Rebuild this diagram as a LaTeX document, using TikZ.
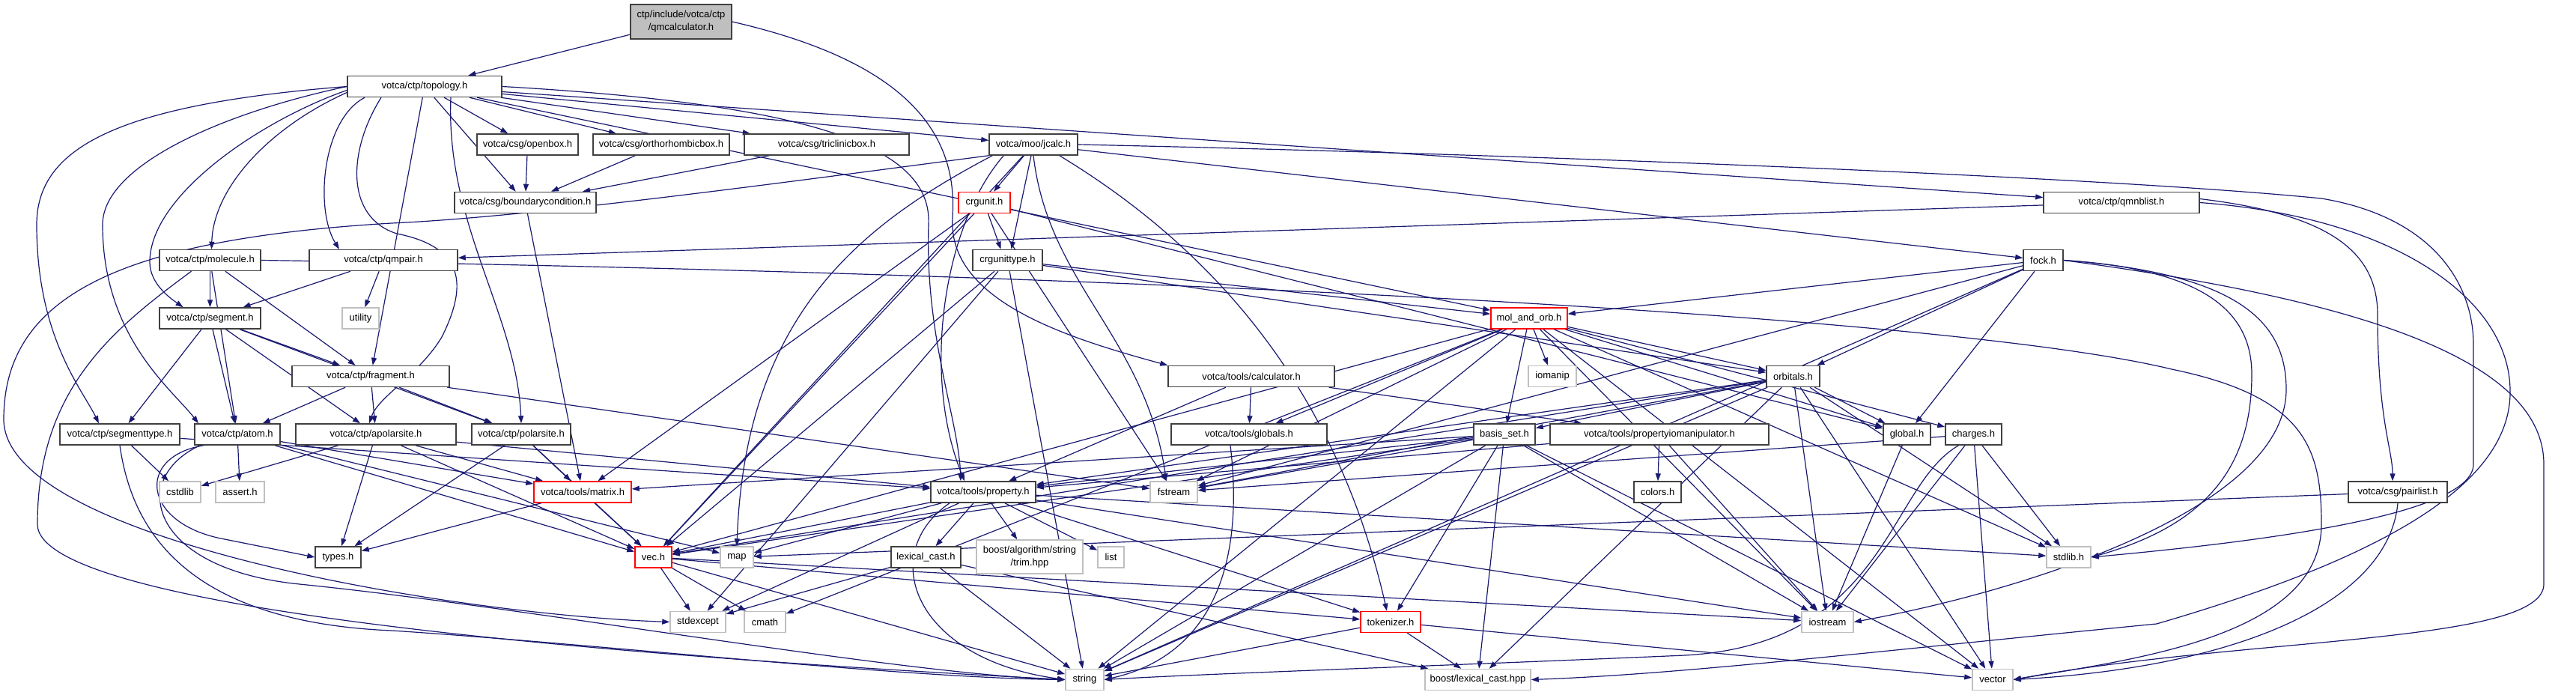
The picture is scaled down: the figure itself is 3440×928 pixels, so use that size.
\documentclass[tikz,border=0pt]{standalone}
\usepackage{fontspec}
\setsansfont{Liberation Sans}
\usetikzlibrary{arrows.meta, backgrounds}
\definecolor{edgeblue}{HTML}{191970}
\definecolor{boxdark}{HTML}{404040}
\definecolor{boxgray}{HTML}{BFBFBF}
\definecolor{boxred}{HTML}{FF0000}

\begin{document}
\begin{tikzpicture}[x=1pt, y=-1pt,
    file/.style={draw=boxdark, fill=white, line width=1.5pt, minimum height=28pt, inner sep=0pt, font=\sffamily\fontsize{13}{17}\selectfont},
    ext/.style={file, draw=boxgray},
    trunc/.style={file, draw=boxred},
    root/.style={file, fill=boxgray, minimum height=46pt, align=center},
    link/.style={->, >={Triangle[length=10pt, width=7pt]}, line width=1.2pt, edgeblue}
  ]
  \useasboundingbox (0,0) rectangle (3440,928);

  % --- rank 0 / 1 ---
  \node[root, minimum width=135pt] (qmcalc) at (909.5,29) {ctp/include/votca/ctp\\/qmcalculator.h};
  \node[file, minimum width=206pt] (topology) at (567,115.5) {votca/ctp/topology.h};

  % --- rank 2 ---
  \node[file, minimum width=135pt] (openbox) at (704.5,193) {votca/csg/openbox.h};
  \node[file, minimum width=182pt] (orthobox) at (883,193) {votca/csg/orthorhombicbox.h};
  \node[file, minimum width=220pt] (triclinicbox) at (1104,193) {votca/csg/triclinicbox.h};
  \node[file, minimum width=118pt] (jcalc) at (1380,193) {votca/moo/jcalc.h};

  % --- rank 3 ---
  \node[file, minimum width=189pt] (boundary) at (701.5,270.5) {votca/csg/boundarycondition.h};
  \node[trunc, minimum width=69pt] (crgunit) at (1314.5,270.5) {crgunit.h};
  \node[file, minimum width=208pt] (qmnblist) at (2833,270.5) {votca/ctp/qmnblist.h};

  % --- rank 4 ---
  \node[file, minimum width=135pt] (molecule) at (280.5,347.5) {votca/ctp/molecule.h};
  \node[file, minimum width=198pt] (qmpair) at (512,347.5) {votca/ctp/qmpair.h};
  \node[file, minimum width=93pt] (crgunittype) at (1345.5,347.5) {crgunittype.h};
  \node[file, minimum width=53pt] (fock) at (2728.5,347.5) {fock.h};

  % --- rank 5 ---
  \node[file, minimum width=135pt] (segment) at (280.5,425) {votca/ctp/segment.h};
  \node[ext, minimum width=49pt] (utility) at (481.5,425) {utility};
  \node[trunc, minimum width=102pt] (molandorb) at (2042,425) {mol\_and\_orb.h};

  % --- rank 6 ---
  \node[file, minimum width=210pt] (fragment) at (495,502.5) {votca/ctp/fragment.h};
  \node[file, minimum width=222pt] (calculator) at (1671,502.5) {votca/tools/calculator.h};
  \node[ext, minimum width=64pt] (iomanip) at (2073,502.5) {iomanip};
  \node[file, minimum width=71pt] (orbitals) at (2394.5,502.5) {orbitals.h};

  % --- rank 7 ---
  \node[file, minimum width=160pt] (segmenttype) at (160,580) {votca/ctp/segmenttype.h};
  \node[file, minimum width=114pt] (atom) at (317,580) {votca/ctp/atom.h};
  \node[file, minimum width=214pt] (apolarsite) at (502,580) {votca/ctp/apolarsite.h};
  \node[file, minimum width=132pt] (polarsite) at (696,580) {votca/ctp/polarsite.h};
  \node[file, minimum width=208pt] (globals) at (1668,580) {votca/tools/globals.h};
  \node[file, minimum width=82pt] (basisset) at (2009,580) {basis\_set.h};
  \node[file, minimum width=292pt] (propiomanip) at (2216,580) {votca/tools/propertyiomanipulator.h};
  \node[file, minimum width=63pt] (global) at (2546.5,580) {global.h};
  \node[file, minimum width=75pt] (charges) at (2635.5,580) {charges.h};

  % --- rank 8 ---
  \node[ext, minimum width=55pt] (cstdlib) at (240.5,657) {cstdlib};
  \node[ext, minimum width=65pt] (asserth) at (320.5,657) {assert.h};
  \node[trunc, minimum width=130pt] (matrix) at (778,657) {votca/tools/matrix.h};
  \node[file, minimum width=140pt] (property) at (1313,657) {votca/tools/property.h};
  \node[ext, minimum width=63pt] (fstream) at (1567.5,657) {fstream};
  \node[file, minimum width=63pt] (colors) at (2213.5,657) {colors.h};
  \node[file, minimum width=132pt] (pairlist) at (3202,657) {votca/csg/pairlist.h};

  % --- rank 9 ---
  \node[file, minimum width=61pt] (types) at (451.5,744) {types.h};
  \node[trunc, minimum width=49pt] (vec) at (872.5,744) {vec.h};
  \node[ext, minimum width=44pt] (maph) at (984,744) {map};
  \node[file, minimum width=93pt] (lexicalcast) at (1236.5,744) {lexical\_cast.h};
  \node[ext, minimum width=142pt, minimum height=45pt, align=center] (trim) at (1375,743.5) {boost/algorithm/string\\/trim.hpp};
  \node[ext, minimum width=35pt] (listh) at (1483.5,744) {list};
  \node[ext, minimum width=59pt] (stdlib) at (2762.5,744) {stdlib.h};

  % --- rank 10 / 11 ---
  \node[ext, minimum width=74pt] (stdexcept) at (932,830.5) {stdexcept};
  \node[ext, minimum width=55pt] (cmath) at (1021.5,830.5) {cmath};
  \node[trunc, minimum width=80pt] (tokenizer) at (1857,830.5) {tokenizer.h};
  \node[ext, minimum width=69pt] (iostream) at (2440.5,830.5) {iostream};
  \node[ext, minimum width=51pt] (stdstring) at (1448.5,907.5) {string};
  \node[ext, minimum width=141pt] (lexcasthpp) at (1973.5,907.5) {boost/lexical\_cast.hpp};
  \node[ext, minimum width=54pt] (stdvector) at (2661,907.5) {vector};

  \begin{scope}[on background layer]
    \fill[white] (0,0) rectangle (3440,928);

    % --- straight includes ---
    \path[link] (qmcalc) edge (topology);
    \path[link] (topology) edge (openbox) edge (orthobox) edge (triclinicbox) edge (boundary)
      edge (jcalc) edge (qmnblist) edge (molandorb) edge (fragment);
    \path[link] (openbox) edge (boundary);
    \path[link] (orthobox) edge (boundary);
    \path[link] (triclinicbox) edge (boundary);
    \path[link] (boundary) edge (matrix);
    \path[link] (jcalc) edge (crgunit) edge (fock) edge (vec);
    \path[link] ([xshift=-3pt]jcalc.south) edge ([xshift=5pt]crgunittype.north);
    \path[link] (qmnblist) edge (qmpair);
    \path[link] ([xshift=5pt]crgunit.south) edge ([xshift=-9pt]crgunittype.north);
    \path[link] (crgunit) edge (global) edge (vec) edge (matrix) edge (fstream);
    \path[link] (crgunittype) edge (molandorb) edge (orbitals) edge (vec) edge (stdstring) edge (stdexcept);
    \path[link] (molecule) edge (segment) edge (atom) edge (fragment);
    \path[link] (qmpair) edge (segment) edge (utility);
    \path[link] (segment) edge (segmenttype) edge (atom) edge (apolarsite) edge (fragment) edge (polarsite);
    \path[link] (fragment) edge (atom) edge (apolarsite) edge (polarsite) edge (fstream);
    \path[link] (segmenttype) edge (cstdlib) edge (property);
    \path[link] (atom) edge (asserth) edge (vec) edge (matrix) edge (maph);
    \path[link] (apolarsite) edge (cstdlib) edge (types) edge (matrix) edge (vec) edge (property);
    \path[link] (polarsite) edge (matrix) edge (types) edge (vec);
    \path[link] (fock) edge (molandorb) edge (orbitals) edge (global) edge (stdstring) edge (fstream);
    \path[link] (molandorb) edge (iomanip) edge (basisset) edge (orbitals) edge (global) edge (charges)
      edge (globals) edge (stdlib) edge (iostream) edge (stdvector) edge (fstream) edge (stdstring)
      edge (vec) edge (cmath);
    \path[link] (orbitals) edge (basisset) edge (global) edge (iostream) edge (stdlib) edge (stdvector)
      edge (vec) edge (fstream) edge (stdstring) edge (lexcasthpp) edge (property);
    \path[link] (basisset) edge (tokenizer) edge (stdstring) edge (lexcasthpp) edge (iostream)
      edge (stdvector) edge (property) edge (fstream) edge (vec) edge (matrix);
    \path[link] (calculator) edge (globals) edge (property) edge (propiomanip);
    \path[link] (propiomanip) edge (colors) edge (iostream) edge (property);
    \path[link] (global) edge (iostream);
    \path[link] (charges) edge (iostream) edge (stdlib) edge (stdvector) edge (fstream);
    \path[link] (property) edge (lexicalcast) edge (trim) edge (listh) edge (tokenizer) edge (maph)
      edge (vec) edge (stdexcept) edge (iostream) edge (stdlib);
    \path[link] (lexicalcast) edge (stdstring) edge (stdexcept) edge (lexcasthpp);
    \path[link] (tokenizer) edge (stdstring) edge (lexcasthpp) edge (stdvector);
    \path[link] (vec) edge (stdexcept) edge (cmath) edge (stdstring) edge (iostream) edge (tokenizer);
    \path[link] (matrix) edge (vec) edge (types);
    \path[link] (pairlist) edge (maph);

    % --- routed includes ---
    \draw[link] (qmcalc.east) .. controls (1200,80) and (1280,170) .. (1272,290)
      .. controls (1265,400) and (1420,450) .. (calculator.north west);
    \draw[link] (topology.west) .. controls (150,140) and (49,200) .. (49,300)
      .. controls (49,450) and (110,520) .. ([xshift=-28pt]segmenttype.north);
    \draw[link] (topology.west) .. controls (300,150) and (137,220) .. (137,300)
      .. controls (137,450) and (230,520) .. ([xshift=-52pt]atom.north);
    \draw[link] ([yshift=-5pt]topology.west) .. controls (350,160) and (200,260) .. (200,350)
      .. controls (200,380) and (230,400) .. ([xshift=-36pt]segment.north);
    \draw[link] ([yshift=-8pt]topology.west) .. controls (360,170) and (285,250) .. ([xshift=2pt]molecule.north);
    \draw[link] ([xshift=-80pt]topology.south) .. controls (430,160) and (420,280) .. ([xshift=-59pt]qmpair.north);
    \draw[link] ([xshift=-58pt]topology.south) .. controls (465,200) and (460,290) .. (530,312)
      .. controls (620,330) and (625,380) .. (590,450) .. controls (560,500) and (505,530) .. ([xshift=-9pt]apolarsite.north);
    \draw[link] ([xshift=35pt]topology.south) .. controls (595,300) and (690,420) .. (polarsite.north);
    \draw[link] (topology.east) .. controls (1100,140) and (1245,200) .. (1240,300)
      .. controls (1235,450) and (1280,560) .. ([xshift=-30pt]property.north);

    \draw[link] ([xshift=20pt]jcalc.south west) .. controls (1260,300) and (1230,500) .. ([xshift=-25pt]property.north);
    \draw[link] (jcalc.south west) .. controls (1000,250) and (700,290) .. (523,298)
      .. controls (150,320) and (5,400) .. (5,560) .. controls (5,720) and (600,820) .. (stdexcept.west);
    \draw[link] ([xshift=5pt]jcalc.south west) .. controls (1150,300) and (995,420) .. (maph.north);
    \draw[link] ([xshift=-25pt]jcalc.south east) .. controls (1600,320) and (1780,500) .. ([xshift=-5pt]tokenizer.north);
    \draw[link] (jcalc.south) .. controls (1400,380) and (1530,450) .. ([xshift=-10pt]fstream.north);
    \draw[link] (jcalc.east) .. controls (2000,205) and (2800,235) .. (3100,265)
      .. controls (3250,290) and (3303,380) .. (3303,460) -- (3303,620)
      .. controls (3303,690) and (3000,725) .. (stdlib.east);

    \draw[link] ([yshift=5pt]qmnblist.east) .. controls (3100,285) and (3175,330) .. (3175,420)
      .. controls (3175,560) and (3195,600) .. ([xshift=-7pt]pairlist.north);
    \draw[link] (qmnblist.east) .. controls (3200,290) and (3350,400) .. (3352,520)
      .. controls (3355,640) and (3200,740) .. (2880,833) .. controls (2500,870) and (2250,900) .. (lexcasthpp.east);

    \draw[link] (fock.east) .. controls (2950,360) and (3007,420) .. (3007,500)
      .. controls (3007,620) and (2950,700) .. (stdlib.east);
    \draw[link] (fock.east) .. controls (2990,365) and (3053,430) .. (3053,520)
      .. controls (3053,680) and (2700,790) .. (iostream.east);
    \draw[link] (fock.east) .. controls (3150,400) and (3397,480) .. (3397,620) -- (3397,780)
      .. controls (3397,860) and (3000,850) .. (stdvector.east);
    \draw[link] (molecule.east) .. controls (1500,365) and (2600,420) .. (2900,493)
      .. controls (3080,530) and (3100,600) .. (3100,700) .. controls (3100,850) and (2850,880) .. (stdvector.east);
    \draw[link] (pairlist.south) .. controls (3190,800) and (3000,890) .. (stdvector.east);

    \draw[link] ([xshift=-25pt]molecule.south) .. controls (150,440) and (50,520) .. (50,700)
      .. controls (50,820) and (900,880) .. (stdstring.west);
    \draw[link] ([xshift=-45pt]atom.south) .. controls (180,610) and (190,700) .. (300,720)
      .. controls (350,730) and (390,738) .. (types.west);
    \draw[link] ([xshift=-50pt]atom.south) .. controls (170,640) and (200,760) .. (400,780)
      .. controls (700,810) and (1200,900) .. (stdstring.west);
    \draw[link] (segmenttype.south) .. controls (175,700) and (240,830) .. (523,842)
      .. controls (800,860) and (1200,905) .. (stdstring.west);
    \draw[link] ([xshift=-45pt]property.south) .. controls (1170,740) and (1220,880) .. (stdstring.west);
    \draw[link] ([xshift=-25pt]globals.south) .. controls (1665,780) and (1600,880) .. (stdstring.east);
    \draw[link] ([xshift=-20pt]charges.south) .. controls (2520,650) and (2520,860) .. (2250,875)
      .. controls (1900,890) and (1600,900) .. (stdstring.east);
  \end{scope}
\end{tikzpicture}
\end{document}
